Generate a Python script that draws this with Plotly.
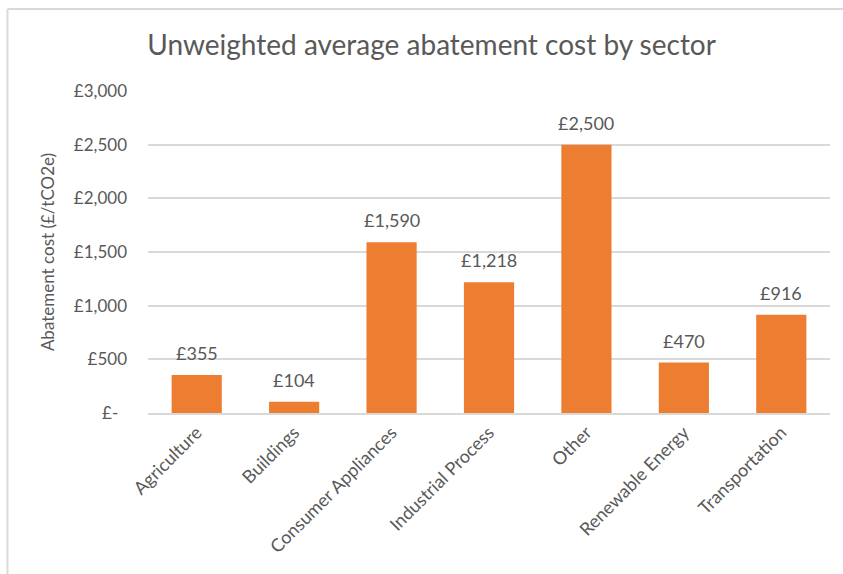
import plotly.graph_objects as go

# Sector abatement costs (£/tCO2e)
sectors = ["Agriculture", "Buildings", "Consumer Appliances", "Industrial Process",
           "Other", "Renewable Energy", "Transportation"]
costs = [355, 104, 1590, 1218, 2500, 470, 916]

tick_values = [0, 500, 1000, 1500, 2000, 2500, 3000]
# accounting-style zero keeps a trailing pad after the dash
tick_labels = ["£-\u00a0\u00a0", "£500", "£1,000", "£1,500", "£2,000", "£2,500", "£3,000"]

FONT = "Lato, 'Noto Sans', sans-serif"
GREY = "#595959"
BAR = "#ED7D31"

fig = go.Figure()
fig.add_trace(go.Bar(
    x=sectors,
    y=costs,
    marker=dict(color=BAR, line=dict(width=0)),
    hoverinfo="skip",
))

# value labels sitting above each bar
for s, v in zip(sectors, costs):
    fig.add_annotation(
        x=s, y=v, text=f"£{v:,}", showarrow=False,
        yanchor="bottom", yshift=9,
        font=dict(family=FONT, size=18, color=GREY),
    )

fig.update_layout(
    width=843, height=574,
    margin=dict(l=148, r=13, t=91, b=161),
    paper_bgcolor="white",
    plot_bgcolor="white",
    bargap=0.485,
    showlegend=False,
    font=dict(family=FONT, color=GREY),
    title=dict(
        text="Unweighted average abatement cost by sector",
        x=0.512, xanchor="center", y=0.921, yanchor="middle",
        font=dict(family=FONT, size=28, color=GREY),
    ),
    xaxis=dict(
        tickangle=-45,
        tickfont=dict(family=FONT, size=18, color=GREY),
        showgrid=False,
        showline=True, linecolor="#d9d9d9", linewidth=2,
        ticks="",
    ),
    yaxis=dict(
        range=[0, 3000],
        tickvals=tick_values,
        ticktext=tick_labels,
        tickfont=dict(family=FONT, size=17, color=GREY),
        showgrid=True, gridcolor="#d9d9d9", gridwidth=2,
        zeroline=False,
        showline=False,
        ticks="",
        ticklabelstandoff=20,
        title=dict(text="Abatement cost (£/tCO2e)",
                   font=dict(family=FONT, size=17, color=GREY),
                   standoff=14),
    ),
    shapes=[
        # chart-area frame (left and top edges visible)
        dict(type="line", xref="paper", yref="paper",
             x0=(7.5 - 148) / 682, x1=(7.5 - 148) / 682,
             y0=(412.7 - 600) / 321.7, y1=(412.7 - 9) / 321.7,
             line=dict(color="#d9d9d9", width=2)),
        dict(type="line", xref="paper", yref="paper",
             x0=(7.5 - 148) / 682, x1=(900 - 148) / 682,
             y0=(412.7 - 9) / 321.7, y1=(412.7 - 9) / 321.7,
             line=dict(color="#d9d9d9", width=2)),
    ],
)

fig.write_html("out.html")
